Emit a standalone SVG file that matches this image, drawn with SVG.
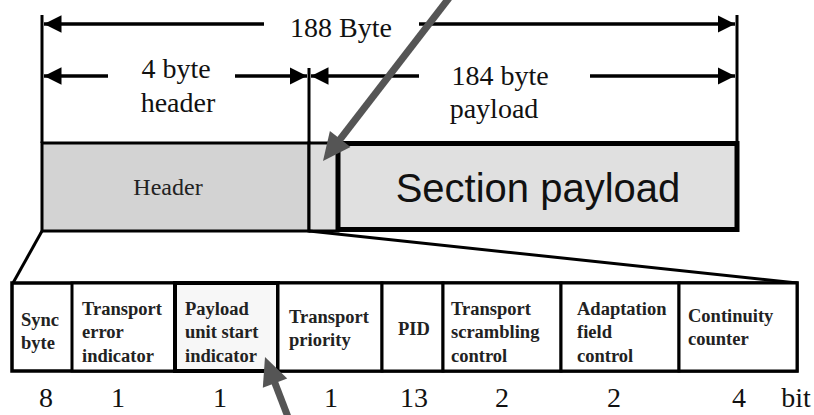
<svg xmlns="http://www.w3.org/2000/svg" width="814" height="415" viewBox="0 0 814 415">
  <defs>
    <marker id="ah" viewBox="0 0 10 10" refX="10" refY="5" markerWidth="5" markerHeight="5" markerUnits="strokeWidth" orient="auto-start-reverse">
      <path d="M0,0 L10,5 L0,10 Z" fill="#000"/>
    </marker>
    <style>
      .dim { stroke: #000; stroke-width: 3.5; fill: none; }
      .arr { marker-end: url(#ah); }
      .edge { stroke: #000; stroke-width: 3; fill: none; }
      .lbl { font-family: "Liberation Serif", "Times New Roman", serif; font-size: 28px; fill: #111; text-anchor: middle; }
      .cell { fill: #fff; stroke: #000; stroke-width: 3; }
      .ctext { font-family: "Liberation Serif", "Times New Roman", serif; font-size: 18.5px; font-weight: bold; fill: #222; }
      .num { font-family: "Liberation Serif", "Times New Roman", serif; font-size: 28px; fill: #111; text-anchor: middle; }
      .pointer { stroke: #555; stroke-width: 7; fill: none; }
    </style>
  </defs>

  <!-- dimension lines -->
  <g id="dimensions">
    <line class="edge" x1="42" y1="15" x2="42" y2="143"/>
    <line class="edge" x1="737" y1="15" x2="737" y2="143"/>
    <line class="edge" x1="309" y1="68" x2="309" y2="232"/>
    <line class="dim arr" x1="264" y1="24" x2="44" y2="24"/>
    <line class="dim arr" x1="419" y1="24" x2="735" y2="24"/>
    <line class="dim arr" x1="108" y1="76" x2="44" y2="76"/>
    <line class="dim arr" x1="235" y1="76" x2="307" y2="76"/>
    <line class="dim arr" x1="419" y1="76" x2="311" y2="76"/>
    <line class="dim arr" x1="590" y1="76" x2="735" y2="76"/>
    <text class="lbl" x="341" y="37">188 Byte</text>
    <text class="lbl" x="176" y="78">4 byte</text>
    <text class="lbl" x="178" y="112">header</text>
    <text class="lbl" x="500" y="85">184 byte</text>
    <text class="lbl" x="494" y="118">payload</text>
  </g>

  <!-- packet bar -->
  <g id="header-block">
    <rect x="42" y="143" width="267" height="88" fill="#d3d3d3" stroke="#000" stroke-width="3"/>
    <text x="168" y="195" font-family="Liberation Serif, Times New Roman, serif" font-size="24" fill="#222" text-anchor="middle">Header</text>
  </g>
  <g id="pointer-field">
    <rect x="309" y="143" width="29" height="88" fill="#dcdcdc" stroke="#000" stroke-width="3"/>
  </g>
  <g id="section-payload">
    <rect x="338" y="143.5" width="399" height="86" fill="#e0e0e0" stroke="#000" stroke-width="5"/>
    <text x="538" y="202" font-family="Liberation Sans, Arial, sans-serif" font-size="40" fill="#111" text-anchor="middle">Section payload</text>
  </g>

  <!-- expansion of the header -->
  <g id="connectors">
    <line class="edge" x1="42" y1="231" x2="13" y2="283"/>
    <line class="edge" x1="309" y1="231" x2="797" y2="283"/>
  </g>

  <!-- header fields -->
  <g id="fields">
    <rect x="12" y="283" width="785" height="88" fill="#fff" stroke="#000" stroke-width="3.5"/>
    <g id="f-sync">
      <text class="ctext" x="21"><tspan x="21" y="326">Sync</tspan><tspan x="21" y="349">byte</tspan></text>
    </g>
    <g id="f-tei">
      <rect class="cell" x="72" y="283" width="103" height="88"/>
      <text class="ctext"><tspan x="82" y="315">Transport</tspan><tspan x="82" y="338">error</tspan><tspan x="82" y="362">indicator</tspan></text>
    </g>
    <g id="f-pusi">
      <rect x="175" y="283" width="103" height="88" fill="#f7f7f7" stroke="#000" stroke-width="4"/>
      <text class="ctext"><tspan x="185" y="315">Payload</tspan><tspan x="185" y="338">unit start</tspan><tspan x="185" y="362">indicator</tspan></text>
    </g>
    <g id="f-prio">
      <rect class="cell" x="278" y="283" width="104" height="88"/>
      <text class="ctext"><tspan x="289" y="323">Transport</tspan><tspan x="289" y="346">priority</tspan></text>
    </g>
    <g id="f-pid">
      <rect class="cell" x="382" y="283" width="61" height="88"/>
      <text class="ctext" x="398" y="335">PID</text>
    </g>
    <g id="f-tsc">
      <rect class="cell" x="443" y="283" width="118" height="88"/>
      <text class="ctext"><tspan x="451" y="315">Transport</tspan><tspan x="451" y="338">scrambling</tspan><tspan x="451" y="362">control</tspan></text>
    </g>
    <g id="f-afc">
      <rect class="cell" x="561" y="283" width="118" height="88"/>
      <text class="ctext"><tspan x="577" y="315">Adaptation</tspan><tspan x="577" y="338">field</tspan><tspan x="577" y="362">control</tspan></text>
    </g>
    <g id="f-cc">
      <rect class="cell" x="679" y="283" width="118" height="88"/>
      <text class="ctext"><tspan x="688" y="322">Continuity</tspan><tspan x="688" y="345">counter</tspan></text>
    </g>
  </g>

  <!-- bit widths -->
  <g id="bit-widths">
    <text class="num" x="46" y="407">8</text>
    <text class="num" x="118" y="407">1</text>
    <text class="num" x="220" y="407">1</text>
    <text class="num" x="331" y="407">1</text>
    <text class="num" x="414" y="407">13</text>
    <text class="num" x="502" y="407">2</text>
    <text class="num" x="614" y="407">2</text>
    <text class="num" x="739" y="407">4</text>
    <text class="num" x="796" y="407">bit</text>
  </g>

  <!-- gray pointer arrows -->
  <g id="pointers">
    <line class="pointer" x1="449" y1="-2" x2="338" y2="142"/>
    <polygon points="323,161 329.9,130.9 350.5,146.9" fill="#555"/>
    <line class="pointer" x1="288" y1="417" x2="273" y2="378"/>
    <polygon points="265,357 262.8,387.8 287.2,378.6" fill="#555"/>
  </g>
</svg>
